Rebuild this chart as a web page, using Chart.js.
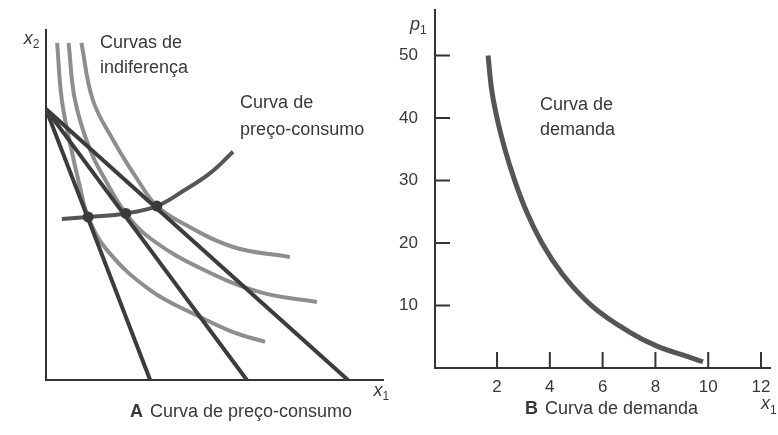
<!DOCTYPE html>
<html>
<head>
<meta charset="utf-8">
<script src="https://cdn.jsdelivr.net/npm/chart.js@4"></script>
<style>
  body { margin: 0; background: #fff; }
  #wrap { position: relative; width: 778px; height: 435px; }
  canvas { position: absolute; top: 0; }
  #left { left: 0; }
  #right { left: 390px; }
</style>
</head>
<body>
<div id="wrap">
  <canvas id="left" width="390" height="435"></canvas>
  <canvas id="right" width="388" height="435"></canvas>
</div>
<script>
// Painel A - curvas de indiferença
const indif1X = [0.33, 0.47, 0.75, 1.01, 1.25, 1.81, 3.09, 4.57, 5.55, 6.50];
const indif1Y = [9.63, 8.00, 6.60, 5.51, 4.66, 3.71, 2.57, 1.80, 1.37, 1.09];
const indif2X = [0.67, 0.86, 1.31, 1.81, 2.37, 3.09, 4.57, 6.35, 8.04];
const indif2Y = [9.63, 8.00, 6.57, 5.63, 4.76, 4.05, 3.20, 2.51, 2.23];
const indif3X = [1.05, 1.39, 1.99, 2.70, 3.29, 4.07, 5.55, 7.24];
const indif3Y = [9.63, 8.00, 6.86, 5.75, 4.97, 4.47, 3.80, 3.51];

// retas orçamentárias: mesmo intercepto em x2, três interceptos em x1
const budgetTop = 7.74;
const budgetEnds = [3.09, 5.96, 8.96];

// curva de preço-consumo e pontos de escolha ótima
const pcX = [0.47, 1.25, 2.37, 3.29, 4.07, 4.87, 5.55];
const pcY = [4.60, 4.66, 4.76, 4.97, 5.40, 5.91, 6.52];
const optX = [1.25, 2.37, 3.29];
const optY = [4.66, 4.76, 4.97];

// Painel B - curva de demanda
const demandX = [1.66, 1.78, 2.00, 2.30, 2.67, 3.12, 3.70, 4.48, 5.58, 7.00, 8.06, 9.31, 9.80];
const demandP = [50, 45, 40, 35, 30, 25, 20, 15, 10, 5.8, 3.5, 1.7, 1.0];
const xTicks = [2, 4, 6, 8, 10, 12];
const pTicks = [10, 20, 30, 40, 50];

const axisColor = '#333';
const textColor = '#383838';
const fontFamily = '"Liberation Sans", Arial, sans-serif';

const toPts = (xs, ys) => xs.map((x, i) => ({ x: x, y: ys[i] }));

function curve(xs, ys, color, order) {
    return {
        data: toPts(xs, ys),
        showLine: true,
        borderColor: color,
        borderWidth: 4,
        pointRadius: 0,
        tension: 0.4,
        order: order
    };
}

// sem margens extras das escalas, para que a área do gráfico fique onde queremos
function noPad(s) {
    s.paddingTop = 0;
    s.paddingBottom = 0;
    s.paddingLeft = 0;
    s.paddingRight = 0;
}

// textos nos dois painéis, posicionados em coordenadas dos dados
function textPlugin(items) {
    return {
        id: 'texts',
        afterDraw(chart) {
            const ctx = chart.ctx;
            const xs = chart.scales.x, ys = chart.scales.y;
            ctx.save();
            ctx.fillStyle = textColor;
            ctx.textBaseline = 'middle';
            ctx.textAlign = 'left';
            items.forEach(t => {
                let px = xs.getPixelForValue(t.x);
                const py = ys.getPixelForValue(t.y);
                if (t.bold) {
                    ctx.font = 'bold 18px ' + fontFamily;
                    ctx.fillText(t.bold, px, py);
                    px += ctx.measureText(t.bold).width + 7;
                }
                ctx.font = t.font || '18px ' + fontFamily;
                ctx.fillText(t.text, px, py);
                if (t.sub) {
                    const w = ctx.measureText(t.text).width;
                    ctx.font = '12px ' + fontFamily;
                    ctx.fillText(t.sub, px + w, py + 6);
                }
            });
            ctx.restore();
        }
    };
}

// marcas de escala voltadas para dentro (painel B)
const innerTicks = {
    id: 'innerTicks',
    afterDraw(chart) {
        const ctx = chart.ctx, a = chart.chartArea;
        ctx.save();
        ctx.strokeStyle = axisColor;
        ctx.lineWidth = 2;
        ctx.beginPath();
        pTicks.forEach(v => {
            const y = chart.scales.y.getPixelForValue(v);
            ctx.moveTo(a.left, y);
            ctx.lineTo(a.left + 15, y);
        });
        xTicks.forEach(v => {
            const x = chart.scales.x.getPixelForValue(v);
            ctx.moveTo(x, a.bottom);
            ctx.lineTo(x, a.bottom - 16);
        });
        ctx.stroke();
        ctx.restore();
    }
};

new Chart(document.getElementById('left'), {
    type: 'scatter',
    data: {
        datasets: [
            curve(indif1X, indif1Y, '#8e8e8e', 4),
            curve(indif2X, indif2Y, '#8e8e8e', 4),
            curve(indif3X, indif3Y, '#8e8e8e', 4),
            ...budgetEnds.map(e => ({
                data: [{ x: 0, y: budgetTop }, { x: e, y: 0 }],
                showLine: true,
                borderColor: '#3c3c3c',
                borderWidth: 4,
                pointRadius: 0,
                order: 3
            })),
            curve(pcX, pcY, '#555', 2),
            {
                data: toPts(optX, optY),
                pointRadius: 5.5,
                pointBackgroundColor: '#3a3a3a',
                pointBorderWidth: 0,
                order: 1
            }
        ]
    },
    options: {
        responsive: false,
        animation: false,
        layout: { padding: { left: 46, right: 7, top: 30, bottom: 55 } },
        plugins: { legend: { display: false }, tooltip: { enabled: false } },
        scales: {
            x: {
                type: 'linear', min: 0, max: 10,
                grid: { display: false },
                ticks: { display: false },
                border: { color: axisColor, width: 2 },
                afterFit: s => { s.height = 0; noPad(s); }
            },
            y: {
                type: 'linear', min: 0, max: 10,
                grid: { display: false },
                ticks: { display: false },
                border: { color: axisColor, width: 2 },
                afterFit: s => { s.width = 0; noPad(s); }
            }
        }
    },
    plugins: [textPlugin([
        { text: 'x', sub: '2', x: -0.66, y: 9.75, font: 'italic 18px ' + fontFamily },
        { text: 'x', sub: '1', x: 9.72, y: -0.3, font: 'italic 18px ' + fontFamily },
        { text: 'Curvas de', x: 1.60, y: 9.63 },
        { text: 'indiferença', x: 1.60, y: 8.91 },
        { text: 'Curva de', x: 5.76, y: 7.91 },
        { text: 'preço-consumo', x: 5.76, y: 7.14 },
        { bold: 'A', text: 'Curva de preço-consumo', x: 2.49, y: -0.91 }
    ])]
});

new Chart(document.getElementById('right'), {
    type: 'scatter',
    data: {
        datasets: [{
            data: toPts(demandX, demandP),
            showLine: true,
            borderColor: '#555',
            borderWidth: 5,
            pointRadius: 0,
            cubicInterpolationMode: 'monotone'
        }]
    },
    options: {
        responsive: false,
        animation: false,
        layout: { padding: { left: 0, right: 8, top: 10, bottom: 0 } },
        plugins: { legend: { display: false }, tooltip: { enabled: false } },
        scales: {
            x: {
                type: 'linear', min: -0.35, max: 12.34,
                afterBuildTicks: s => { s.ticks = xTicks.map(v => ({ value: v })); },
                grid: { display: false, drawTicks: false },
                ticks: { color: textColor, font: { family: fontFamily, size: 17 }, padding: 9, maxRotation: 0 },
                border: { color: axisColor, width: 2 },
                afterFit: s => { s.height = 67; noPad(s); }
            },
            y: {
                type: 'linear', min: 0, max: 57.3,
                afterBuildTicks: s => { s.ticks = pTicks.map(v => ({ value: v })); },
                grid: { display: false, drawTicks: false },
                ticks: { color: textColor, font: { family: fontFamily, size: 17 }, padding: 17 },
                border: { color: axisColor, width: 2 },
                afterFit: s => { s.width = 45; noPad(s); }
            }
        }
    },
    plugins: [innerTicks, textPlugin([
        { text: 'p', sub: '1', x: -1.3, y: 54.9, font: 'italic 18px ' + fontFamily },
        { text: 'x', sub: '1', x: 12.0, y: -5.8, font: 'italic 18px ' + fontFamily },
        { text: 'Curva de', x: 3.63, y: 42.1 },
        { text: 'demanda', x: 3.63, y: 38.1 },
        { bold: 'B', text: 'Curva de demanda', x: 3.06, y: -6.6 }
    ])]
});
</script>
</body>
</html>
